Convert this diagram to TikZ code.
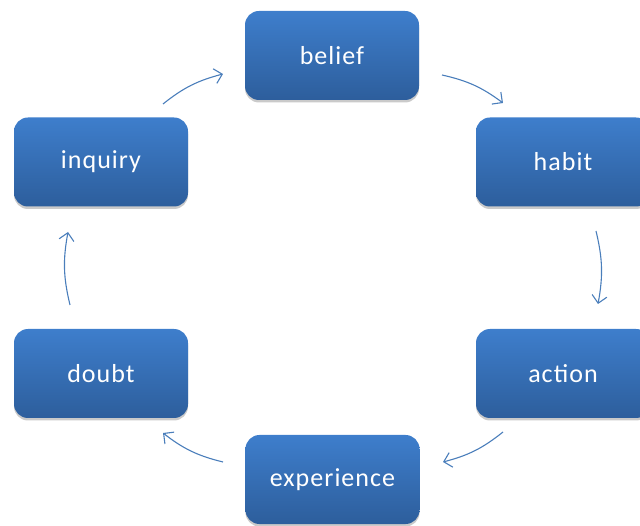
\documentclass[tikz,border=0pt]{standalone}
\usepackage{fontspec}
\setmainfont{Carlito}[LetterSpace=4]
\usetikzlibrary{shadows,arrows.meta}
\definecolor{boxtop}{RGB}{62,126,204}
\definecolor{boxbot}{RGB}{45,94,156}
\definecolor{arrowc}{RGB}{74,126,187}
\tikzset{
  stagebox/.style={rounded corners=14pt, minimum width=174pt, minimum height=89pt,
    top color=boxtop, bottom color=boxbot, draw=none, text=white,
    font=\fontsize{26}{30}\selectfont,
    drop shadow={shadow xshift=0pt, shadow yshift=-2.5pt, opacity=0.35, fill=black!60}},
  cyclearrow/.style={draw=arrowc, line width=1.1pt, bend left=12,
    -{Straight Barb[length=7.5pt,width=15pt,line width=1.1pt]}}
}
\begin{document}
\begin{tikzpicture}[x=1pt,y=1pt]
\useasboundingbox (0,0) rectangle (640,525);
\clip (0,0) rectangle (640,525);
\node[stagebox] (belief) at (332,469.5) {belief};
\node[stagebox] (habit) at (563,363) {habit};
\node[stagebox] (action) at (563,151.5) {action};
\node[stagebox] (experience) at (332.5,45.5) {experience};
\node[stagebox] (doubt) at (101,151.5) {doubt};
\node[stagebox] (inquiry) at (101,363) {inquiry};
\coordinate (a1s) at (442,450);
\coordinate (a1e) at (503,422);
\coordinate (a2s) at (596,294);
\coordinate (a2e) at (598,221);
\coordinate (a3s) at (503,93);
\coordinate (a3e) at (443,63);
\coordinate (a4s) at (223,63);
\coordinate (a4e) at (163,92);
\coordinate (a5s) at (70,220);
\coordinate (a5e) at (68,293);
\coordinate (a6s) at (163,421);
\coordinate (a6e) at (223,451);
\draw[cyclearrow] (a1s) to (a1e);
\draw[cyclearrow] (a2s) to (a2e);
\draw[cyclearrow] (a3s) to (a3e);
\draw[cyclearrow] (a4s) to (a4e);
\draw[cyclearrow] (a5s) to (a5e);
\draw[cyclearrow] (a6s) to (a6e);
\end{tikzpicture}
\end{document}
